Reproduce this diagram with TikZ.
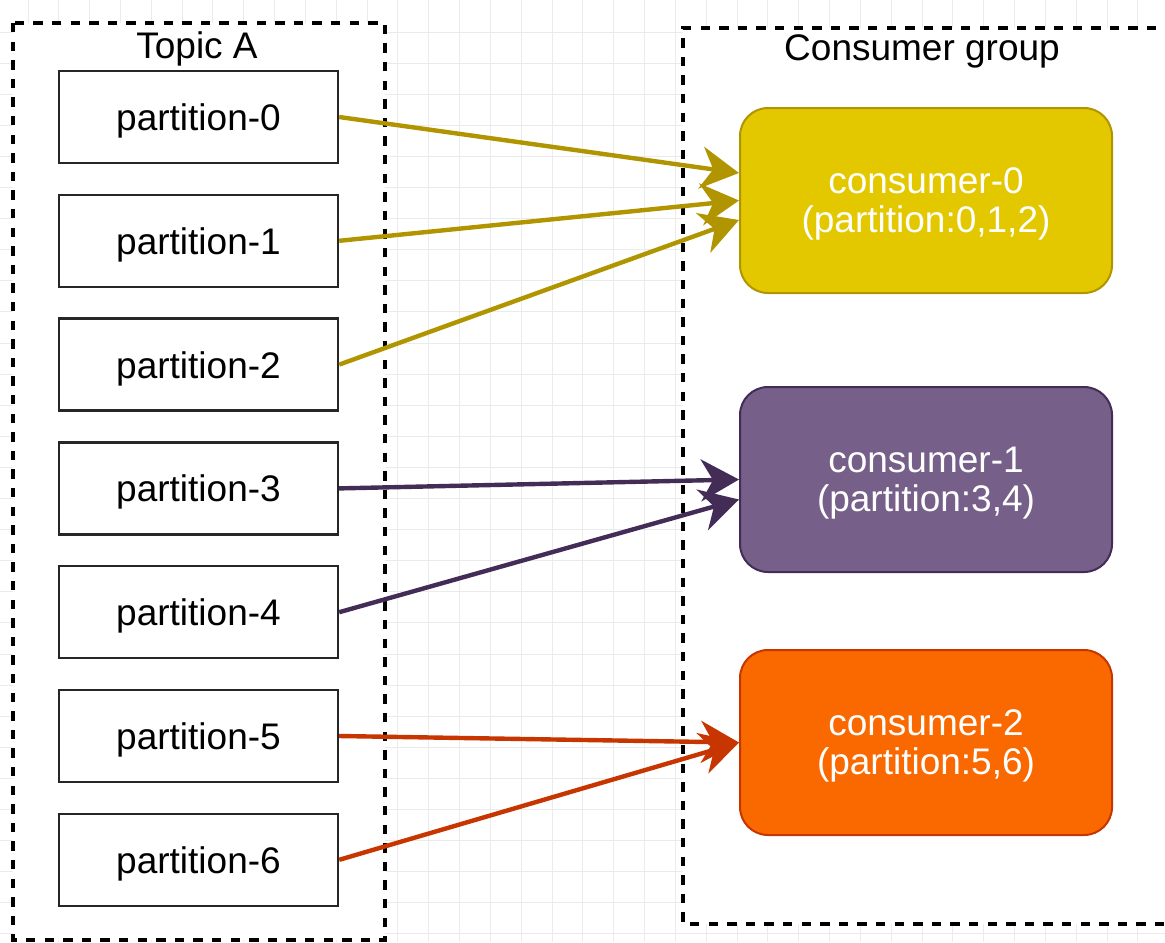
\documentclass[tikz,border=0pt]{standalone}
\usepackage{fontspec}
\setmainfont{Liberation Sans}
\usepackage{xcolor}
\usepackage{tikz}
\usetikzlibrary{arrows.meta}

\definecolor{yellowfill}{HTML}{E3C800}
\definecolor{yellowline}{HTML}{B09500}
\definecolor{purplefill}{HTML}{76608A}
\definecolor{purpleline}{HTML}{432D57}
\definecolor{orangefill}{HTML}{FA6800}
\definecolor{orangeline}{HTML}{C73500}

\begin{document}
\begin{tikzpicture}[x=0.5pt, y=-0.5pt,
        gridline/.style={draw=black!8, line width=0.5pt},
        container/.style={draw=black, fill=white, line width=1.6pt, dash pattern=on 4.7pt off 4.6pt},
        part/.style={draw=black!85, fill=white, line width=1.2pt, minimum width=139.5pt, minimum height=46pt, text depth=0pt, font=\fontsize{18.5}{21}\selectfont},
        consumer/.style n args={2}{draw=#2, fill=#1, line width=1pt, rounded corners=14pt, minimum width=186pt, minimum height=92.5pt, align=center, text=white, text depth=0pt, font=\fontsize{18.5}{19.5}\selectfont},
        link/.style={draw=#1, line width=2.2pt, -{Stealth[length=19pt, width=21pt, inset=6pt]}}]
        \useasboundingbox (0,0) rectangle (1165,942);
        \clip (0,0) rectangle (1165,942);
        % background grid
        \foreach \gx in {0,...,37}
            \draw[gridline] ({28+30.83*\gx},0) -- ++(0,942);
        \foreach \gy in {0,...,29}
            \draw[gridline] (0,{32+31.1*\gy}) -- ++(1165,0);
        % the two dashed containers
        \draw[container] (13,23) rectangle (385,940);
        \fill[white] (683,28) rectangle (1175,924);
        \draw[container] (1175,28) -- (683,28) -- (683,924) -- (1175,924);
        \node[font=\fontsize{18.5}{21}\selectfont] (topic) at (197,49) {Topic A};
        \node[font=\fontsize{18.5}{21}\selectfont] (group) at (922,51) {Consumer group};
        % partitions of the topic
        \foreach \i in {0,...,6}
            \node[part] (p\i) at (198.5,{117+123.8*\i}) {partition-\i};
        % consumers
        \node[consumer={yellowfill}{yellowline}] (c0) at (926,200.5) {consumer-0\\(partition:0,1,2)};
        \node[consumer={purplefill}{purpleline}] (c1) at (926,479.5) {consumer-1\\(partition:3,4)};
        \node[consumer={orangefill}{orangeline}] (c2) at (926,742.5) {consumer-2\\(partition:5,6)};
        % assignments
        \draw[link=yellowline] (p0.east) -- ([yshift=13.75pt]c0.west);
        \draw[link=yellowline] (p1.east) -- (c0.west);
        \draw[link=yellowline] (p2.east) -- ([yshift=-9.75pt]c0.west);
        \draw[link=purpleline] (p3.east) -- (c1.west);
        \draw[link=purpleline] (p4.east) -- ([yshift=-10pt]c1.west);
        \draw[link=orangeline] (p5.east) -- (c2.west);
        \draw[link=orangeline] (p6.east) -- (c2.west);
\end{tikzpicture}
\end{document}
